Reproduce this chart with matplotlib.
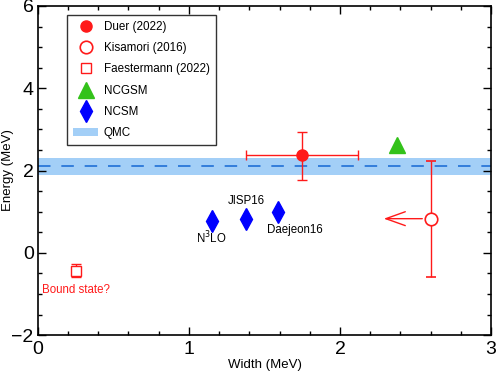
import matplotlib
matplotlib.use('Agg')
import matplotlib.pyplot as plt
from matplotlib.patches import Patch
from matplotlib.lines import Line2D
from matplotlib.ticker import MultipleLocator

plt.rcParams['font.family'] = ['Liberation Sans', 'DejaVu Sans']

# measured points
duer_x, duer_y = 1.75, 2.37
duer_xerr = [[0.37], [0.37]]
duer_yerr = [[0.59], [0.57]]

kis_x, kis_y = 2.6, 0.83
kis_yerr = [[1.41], [1.39]]
kis_limit = 2.29

faes_x, faes_y = 0.25, -0.43
faes_yerr = [[0.16], [0.16]]

# theory
ncgsm_x, ncgsm_y = 2.38, 2.62
ncsm_x = [1.15, 1.38, 1.59]
ncsm_y = [0.77, 0.83, 0.99]
ncsm_labels = ['N$^3$LO', 'JISP16', 'Daejeon16']

qmc_center = 2.1
qmc_low, qmc_high = 1.9, 2.3

red = '#ff1a1a'
blue = '#0000ff'
green = '#33c21a'

fig = plt.figure(figsize=(4.98, 3.74), dpi=100)
ax = fig.add_axes([0.076, 0.104, 0.910, 0.880])

ax.axhspan(qmc_low, qmc_high, color='#a3cff7', lw=0, zorder=1)
ax.axhline(qmc_center, color='#1f6fd6', lw=1.2, dashes=(7.5, 6.5), zorder=2)

ax.errorbar(duer_x, duer_y, xerr=duer_xerr, yerr=duer_yerr, fmt='o', color=red,
            ms=8, elinewidth=1, capsize=3.6, capthick=1, zorder=5)
ax.errorbar(kis_x, kis_y, yerr=kis_yerr, fmt='o', color=red, mfc='white',
            mec=red, ms=9, mew=1.2, elinewidth=1, capsize=3.6, capthick=1, zorder=5)
ax.annotate('', xy=(kis_limit, kis_y), xytext=(kis_x, kis_y),
            arrowprops=dict(arrowstyle='->,head_length=0.7,head_width=0.25',
                            color=red, lw=1, mutation_scale=20, shrinkA=6, shrinkB=0),
            zorder=4)
ax.errorbar(faes_x, faes_y, yerr=faes_yerr, fmt='s', color=red, mfc='white',
            mec=red, ms=7, mew=1, elinewidth=1, capsize=3.6, capthick=1, zorder=5)
ax.text(faes_x, -0.75, 'Bound state?', color=red, fontsize=8.3, ha='center', va='top')

ax.plot(ncgsm_x, ncgsm_y, '^', color=green, ms=12, zorder=5)
ax.plot(ncsm_x, ncsm_y, 'd', color=blue, ms=11, zorder=5)
ax.text(ncsm_x[0], ncsm_y[0] - 0.22, ncsm_labels[0], fontsize=8.3, ha='center', va='top')
ax.text(ncsm_x[1], ncsm_y[1] + 0.28, ncsm_labels[1], fontsize=8.3, ha='center', va='bottom')
ax.text(ncsm_x[2] + 0.11, ncsm_y[2] - 0.28, ncsm_labels[2], fontsize=8.3, ha='center', va='top')

ax.set_xlim(0, 3)
ax.set_ylim(-2, 6)
ax.xaxis.set_major_locator(MultipleLocator(1))
ax.xaxis.set_minor_locator(MultipleLocator(0.2))
ax.yaxis.set_major_locator(MultipleLocator(2))
ax.yaxis.set_minor_locator(MultipleLocator(0.5))
ax.tick_params(which='both', direction='in', top=True, right=True, labelsize=14, width=1)
ax.tick_params(which='major', length=6)
ax.tick_params(which='minor', length=3)
ax.tick_params(axis='x', which='major', pad=4)
ax.tick_params(axis='y', which='major', pad=3)
for s in ax.spines.values():
    s.set_linewidth(1.2)
ax.set_xlabel('Width (MeV)', fontsize=9.5)
ax.set_ylabel('Energy (MeV)', fontsize=9.5, va='center')
ax.xaxis.set_label_coords(0.5, -0.072)
ax.yaxis.set_label_coords(-0.066, 0.5)

handles = [
    Line2D([], [], ls='none', marker='o', color=red, ms=8),
    Line2D([], [], ls='none', marker='o', mfc='white', mec=red, mew=1.2, ms=9),
    Line2D([], [], ls='none', marker='s', mfc='white', mec=red, mew=1, ms=7),
    Line2D([], [], ls='none', marker='^', color=green, ms=12),
    Line2D([], [], ls='none', marker='d', color=blue, ms=11),
    Patch(facecolor='#a3cff7', edgecolor='none'),
]
labels = ['Duer (2022)', 'Kisamori (2016)', 'Faestermann (2022)', 'NCGSM', 'NCSM', 'QMC']
leg = ax.legend(handles, labels, loc='upper left', bbox_to_anchor=(0.064, 0.973),
                borderaxespad=0, fontsize=8.4, frameon=True, fancybox=False,
                edgecolor='black', handlelength=2.1, handletextpad=0.5,
                labelspacing=0.78, borderpad=0.55)
leg.get_frame().set_linewidth(1)

fig.savefig('out.png', dpi=100)
